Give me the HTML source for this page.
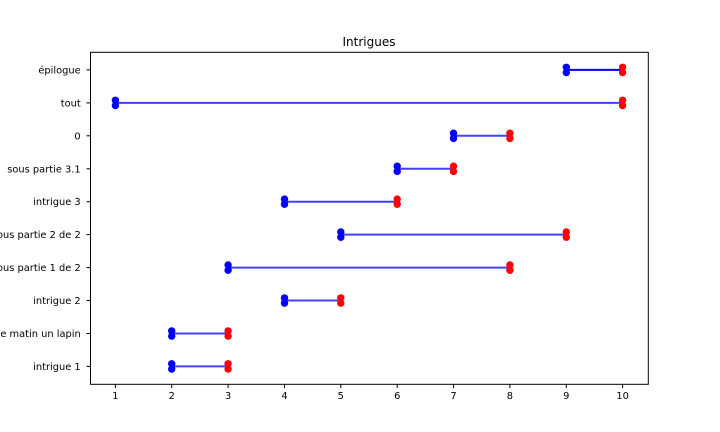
<!DOCTYPE html>
<html><head><meta charset="utf-8"><style>
html,body{margin:0;padding:0;background:#fff;}
svg{display:block;}
text{font-family:"DejaVu Sans","Liberation Sans",sans-serif;fill:#000;}
</style></head><body>
<svg width="720" height="432" viewBox="0 0 720 432" xmlns="http://www.w3.org/2000/svg">
<rect x="0" y="0" width="720" height="432" fill="#fff"/>
<text x="369" y="46" font-size="12" text-anchor="middle">Intrigues</text>
<g stroke-width="2" stroke-linecap="butt">
<line x1="171.7" y1="366.4" x2="228.1" y2="366.4" stroke="#4040ff"/>
<line x1="171.7" y1="333.5" x2="228.1" y2="333.5" stroke="#4040ff"/>
<line x1="284.5" y1="300.5" x2="340.8" y2="300.5" stroke="#4040ff"/>
<line x1="228.1" y1="267.6" x2="509.9" y2="267.6" stroke="#4040ff"/>
<line x1="340.8" y1="234.6" x2="566.3" y2="234.6" stroke="#4040ff"/>
<line x1="284.5" y1="201.7" x2="397.2" y2="201.7" stroke="#4040ff"/>
<line x1="397.2" y1="168.8" x2="453.5" y2="168.8" stroke="#4040ff"/>
<line x1="453.5" y1="135.8" x2="509.9" y2="135.8" stroke="#4040ff"/>
<line x1="115.4" y1="102.9" x2="622.6" y2="102.9" stroke="#4040ff"/>
<line x1="566.3" y1="69.9" x2="622.6" y2="69.9" stroke="#0000ff"/>
</g>
<g fill="#0000ff">
<circle cx="171.7" cy="363.8" r="3.7"/><circle cx="171.7" cy="369" r="3.7"/>
<circle cx="171.7" cy="330.9" r="3.7"/><circle cx="171.7" cy="336.1" r="3.7"/>
<circle cx="284.5" cy="297.9" r="3.7"/><circle cx="284.5" cy="303.1" r="3.7"/>
<circle cx="228.1" cy="265" r="3.7"/><circle cx="228.1" cy="270.2" r="3.7"/>
<circle cx="340.8" cy="232" r="3.7"/><circle cx="340.8" cy="237.2" r="3.7"/>
<circle cx="284.5" cy="199.1" r="3.7"/><circle cx="284.5" cy="204.3" r="3.7"/>
<circle cx="397.2" cy="166.2" r="3.7"/><circle cx="397.2" cy="171.4" r="3.7"/>
<circle cx="453.5" cy="133.2" r="3.7"/><circle cx="453.5" cy="138.4" r="3.7"/>
<circle cx="115.4" cy="100.3" r="3.7"/><circle cx="115.4" cy="105.5" r="3.7"/>
<circle cx="566.3" cy="67.3" r="3.7"/><circle cx="566.3" cy="72.5" r="3.7"/>
</g>
<g fill="#ff0000">
<circle cx="228.1" cy="363.8" r="3.7"/><circle cx="228.1" cy="369" r="3.7"/>
<circle cx="228.1" cy="330.9" r="3.7"/><circle cx="228.1" cy="336.1" r="3.7"/>
<circle cx="340.8" cy="297.9" r="3.7"/><circle cx="340.8" cy="303.1" r="3.7"/>
<circle cx="509.9" cy="265" r="3.7"/><circle cx="509.9" cy="270.2" r="3.7"/>
<circle cx="566.3" cy="232" r="3.7"/><circle cx="566.3" cy="237.2" r="3.7"/>
<circle cx="397.2" cy="199.1" r="3.7"/><circle cx="397.2" cy="204.3" r="3.7"/>
<circle cx="453.5" cy="166.2" r="3.7"/><circle cx="453.5" cy="171.4" r="3.7"/>
<circle cx="509.9" cy="133.2" r="3.7"/><circle cx="509.9" cy="138.4" r="3.7"/>
<circle cx="622.6" cy="100.3" r="3.7"/><circle cx="622.6" cy="105.5" r="3.7"/>
<circle cx="622.6" cy="67.3" r="3.7"/><circle cx="622.6" cy="72.5" r="3.7"/>
</g>
<rect x="90.5" y="52.3" width="557.8" height="332" fill="none" stroke="#000" stroke-width="1"/>
<g stroke="#000" stroke-width="1">
<line x1="86.5" y1="366.4" x2="90" y2="366.4"/>
<line x1="86.5" y1="333.5" x2="90" y2="333.5"/>
<line x1="86.5" y1="300.5" x2="90" y2="300.5"/>
<line x1="86.5" y1="267.6" x2="90" y2="267.6"/>
<line x1="86.5" y1="234.6" x2="90" y2="234.6"/>
<line x1="86.5" y1="201.7" x2="90" y2="201.7"/>
<line x1="86.5" y1="168.8" x2="90" y2="168.8"/>
<line x1="86.5" y1="135.8" x2="90" y2="135.8"/>
<line x1="86.5" y1="102.9" x2="90" y2="102.9"/>
<line x1="86.5" y1="69.9" x2="90" y2="69.9"/>
<line x1="115.4" y1="384.3" x2="115.4" y2="388"/>
<line x1="171.7" y1="384.3" x2="171.7" y2="388"/>
<line x1="228.1" y1="384.3" x2="228.1" y2="388"/>
<line x1="284.5" y1="384.3" x2="284.5" y2="388"/>
<line x1="340.8" y1="384.3" x2="340.8" y2="388"/>
<line x1="397.2" y1="384.3" x2="397.2" y2="388"/>
<line x1="453.5" y1="384.3" x2="453.5" y2="388"/>
<line x1="509.9" y1="384.3" x2="509.9" y2="388"/>
<line x1="566.3" y1="384.3" x2="566.3" y2="388"/>
<line x1="622.6" y1="384.3" x2="622.6" y2="388"/>
</g>
<g font-size="9.85" text-anchor="end">
<text x="80.7" y="370">intrigue 1</text>
<text x="80.7" y="337">ce matin un lapin</text>
<text x="80.7" y="304">intrigue 2</text>
<text x="80.7" y="271">sous partie 1 de 2</text>
<text x="80.7" y="238">sous partie 2 de 2</text>
<text x="80.7" y="205">intrigue 3</text>
<text x="80.7" y="172.3">sous partie 3.1</text>
<text x="80.7" y="139.3">0</text>
<text x="80.7" y="106.3">tout</text>
<text x="80.7" y="73.5">épilogue</text>
</g>
<g font-size="9.85" text-anchor="middle">
<text x="115.4" y="399">1</text>
<text x="171.7" y="399">2</text>
<text x="228.1" y="399">3</text>
<text x="284.5" y="399">4</text>
<text x="340.8" y="399">5</text>
<text x="397.2" y="399">6</text>
<text x="453.5" y="399">7</text>
<text x="509.9" y="399">8</text>
<text x="566.3" y="399">9</text>
<text x="622.6" y="399">10</text>
</g>
</svg>
</body></html>
